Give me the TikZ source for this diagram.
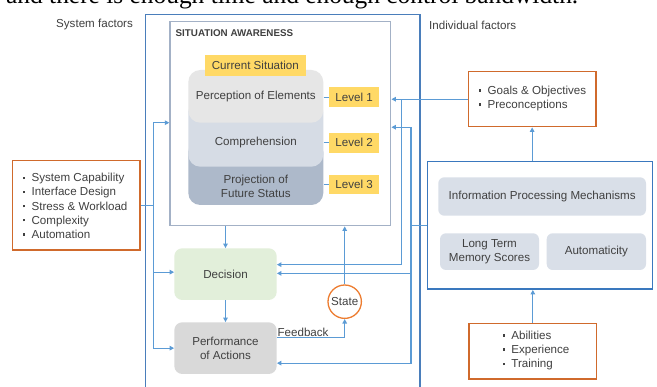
\documentclass[tikz,border=0pt]{standalone}
\usepackage{fontspec}
\setmainfont{Liberation Sans}
\newfontfamily\docserif{Liberation Serif}
\usetikzlibrary{arrows.meta,calc}
\definecolor{lineblue}{HTML}{5B9BD5}
\definecolor{frameblue}{HTML}{4A7EBB}
\definecolor{indblue}{HTML}{3A78BE}
\definecolor{saborder}{HTML}{A3B1C6}
\definecolor{orangeb}{HTML}{D06A2C}
\definecolor{stateor}{HTML}{ED7D31}
\definecolor{yel}{HTML}{FFD966}
\definecolor{percc}{HTML}{E6E6E6}
\definecolor{compc}{HTML}{D6DCE5}
\definecolor{projc}{HTML}{ADB9CA}
\definecolor{decc}{HTML}{E2EFDA}
\definecolor{perfc}{HTML}{D9D9D9}
\definecolor{ipmc}{HTML}{D9DFE8}
\definecolor{txt}{HTML}{404040}
\newcommand\bulitem[1]{\raisebox{2.7pt}{\rule{2.6pt}{2.6pt}}\hspace{6.3pt}#1}
\tikzset{
  basefont/.style={font=\fontsize{11.6}{14.1}\selectfont, text=txt},
  con/.style={draw=lineblue, line width=1.1pt},
  arr/.style={con, -{Triangle[length=4.5pt,width=4.5pt]}},
  listbox/.style={draw=orangeb, line width=1.4pt, fill=white, inner sep=0pt},
  listtext/.style={basefont, align=left, inner sep=0pt, anchor=west},
  levelbox/.style={basefont, fill=yel, inner sep=0pt, minimum width=50.3pt, minimum height=20pt},
  layertxt/.style={basefont, inner sep=0pt, minimum width=135pt, align=center},
  stepbox/.style={basefont, rounded corners=8pt, inner sep=0pt, minimum width=102.4pt, minimum height=51.7pt, align=center},
  graybox/.style={basefont, fill=ipmc, rounded corners=6pt, inner sep=0pt, align=center},
}
\begin{document}
\begin{tikzpicture}[x=1pt,y=-1pt]
\useasboundingbox (0,0) rectangle (657,387);
\clip (0,0) rectangle (657,387);
\fill[white] (0,0) rectangle (657,387);

% clipped document text at top
\node[anchor=base west, inner sep=0pt, font=\docserif\fontsize{25.4}{28}\selectfont, text=black] (doctext) at (6,4) {and there is enough time and enough control bandwidth.};

% outer frame
\draw[frameblue, line width=1.5pt] (145.5,395) -- (145.5,14.7) -- (420,14.7) -- (420,395);

% headings
\node[basefont, anchor=west, inner sep=0pt] (syslab) at (56,25) {System factors};
\node[basefont, anchor=west, inner sep=0pt] (indlab) at (429,25) {Individual factors};

% SA box
\node[draw=saborder, line width=1.4pt, inner sep=0pt, minimum width=220.7pt, minimum height=204pt] (sa) at (280.35,123.7) {};
\node[anchor=west, inner sep=0pt, font=\bfseries\fontsize{9.8}{12}\selectfont, text=txt] (satitle) at (175.5,33) {SITUATION AWARENESS};

% stacked levels
\fill[projc, rounded corners=12pt] (188.3,140) rectangle (323.3,205);
\fill[compc, rounded corners=12pt] (188.3,100) rectangle (323.3,166.7);
\fill[percc, rounded corners=12pt] (188.3,70) rectangle (323.3,122.7);
\node[levelbox, minimum width=100.7pt, minimum height=20.7pt] (cur) at (255.35,65.35) {Current Situation};
\node[layertxt] (perc) at (255.8,97) {Perception of Elements};
\node[layertxt] (comp) at (255.8,143) {Comprehension};
\node[layertxt] (proj) at (255.8,186) {Projection of\\Future Status};

\node[levelbox] (lv1) at (354.15,97.3) {Level 1};
\node[levelbox] (lv2) at (354.15,142.7) {Level 2};
\node[levelbox, minimum height=19.3pt] (lv3) at (354.15,184.65) {Level 3};
\draw[con] (lv1.west -| perc.east) -- (lv1.west);
\draw[con] (lv2.west -| comp.east) -- (lv2.west);
\draw[con] (lv3.west -| proj.east) -- (lv3.west);

% decision / performance
\node[stepbox, fill=decc] (dec) at (225.5,274.15) {Decision};
\node[stepbox, fill=perfc] (perf) at (225.5,348.15) {Performance\\of Actions};
\node[basefont, draw=stateor, line width=1.3pt, circle, fill=white, inner sep=0pt, minimum size=33.4pt] (state) at (344.7,301.7) {State};

\draw[arr] (dec.north |- sa.south) -- (dec.north);
\draw[arr] (dec.south) -- (perf.north);
\draw[arr] (state.north) -- (state.north |- sa.south);
\coordinate (fb) at ($(perf.east)+(0,-10.5)$);
\draw[arr] (fb) -| (state.south);
\node[basefont, anchor=south west, inner sep=0pt] (fblab) at ($(fb)+(0.5,-0.8)$) {Feedback};

% system factors
\node[listbox, minimum width=127.3pt, minimum height=89.3pt] (sys) at (76.35,205.35) {};
\node[listtext] (systxt) at (22.5,205.9) {\bulitem{System Capability}\\\bulitem{Interface Design}\\\bulitem{Stress \& Workload}\\\bulitem{Complexity}\\\bulitem{Automation}};
\coordinate (lj) at (153.3,205.35);
\draw[con] (sys.east) -- (lj);
\draw[arr] (lj) |- ($(sa.west)+(0,-1)$);
\draw[arr] (lj) |- ($(dec.west)+(0,-2)$);
\draw[arr] (lj) |- (perf.west);

% goals
\node[listbox, minimum width=127.7pt, minimum height=55pt] (goals) at (532.15,99.2) {};
\node[listtext] (goalstxt) at (478.5,98.7) {\bulitem{Goals \& Objectives}\\\bulitem{Preconceptions}};

% individual box
\node[draw=indblue, line width=1.5pt, fill=white, inner sep=0pt, minimum width=224.8pt, minimum height=127.7pt] (ind) at (539.9,225.35) {};
\node[graybox, minimum width=207.7pt, minimum height=38.4pt] (ipm) at (542.15,196.5) {Information Processing Mechanisms};
\node[graybox, minimum width=99pt, minimum height=36.7pt] (ltm) at (489.5,251.65) {Long Term\\Memory Scores};
\node[graybox, minimum width=99.3pt, minimum height=36.7pt] (auto) at (596.35,251.65) {Automaticity};

% abilities
\node[listbox, minimum width=127.7pt, minimum height=55.7pt] (abil) at (532.85,351.15) {};
\node[listtext] (abiltxt) at (502.3,350.8) {\bulitem{Abilities}\\\bulitem{Experience}\\\bulitem{Training}};

\draw[arr] (goals.south |- ind.north) -- (goals.south);
\draw[arr] (abil.north) -- (abil.north |- ind.south);

% right-side feeds
\coordinate (g1) at (401.5,99.2);
\draw[arr] (goals.west) -- (goals.west -| sa.east);
\draw[arr] (g1) |- ($(dec.east)+(0,-9.5)$);
\coordinate (i1) at (411,225.35);
\draw[con] (ind.west) -- (i1);
\draw[arr] (i1) |- ($(sa.east)+(0,3.5)$);
\draw[arr] (i1) |- ($(dec.east)+(0,-0.8)$);
\draw[arr] (i1) |- ($(perf.east)+(0,15)$);
\end{tikzpicture}
\end{document}
